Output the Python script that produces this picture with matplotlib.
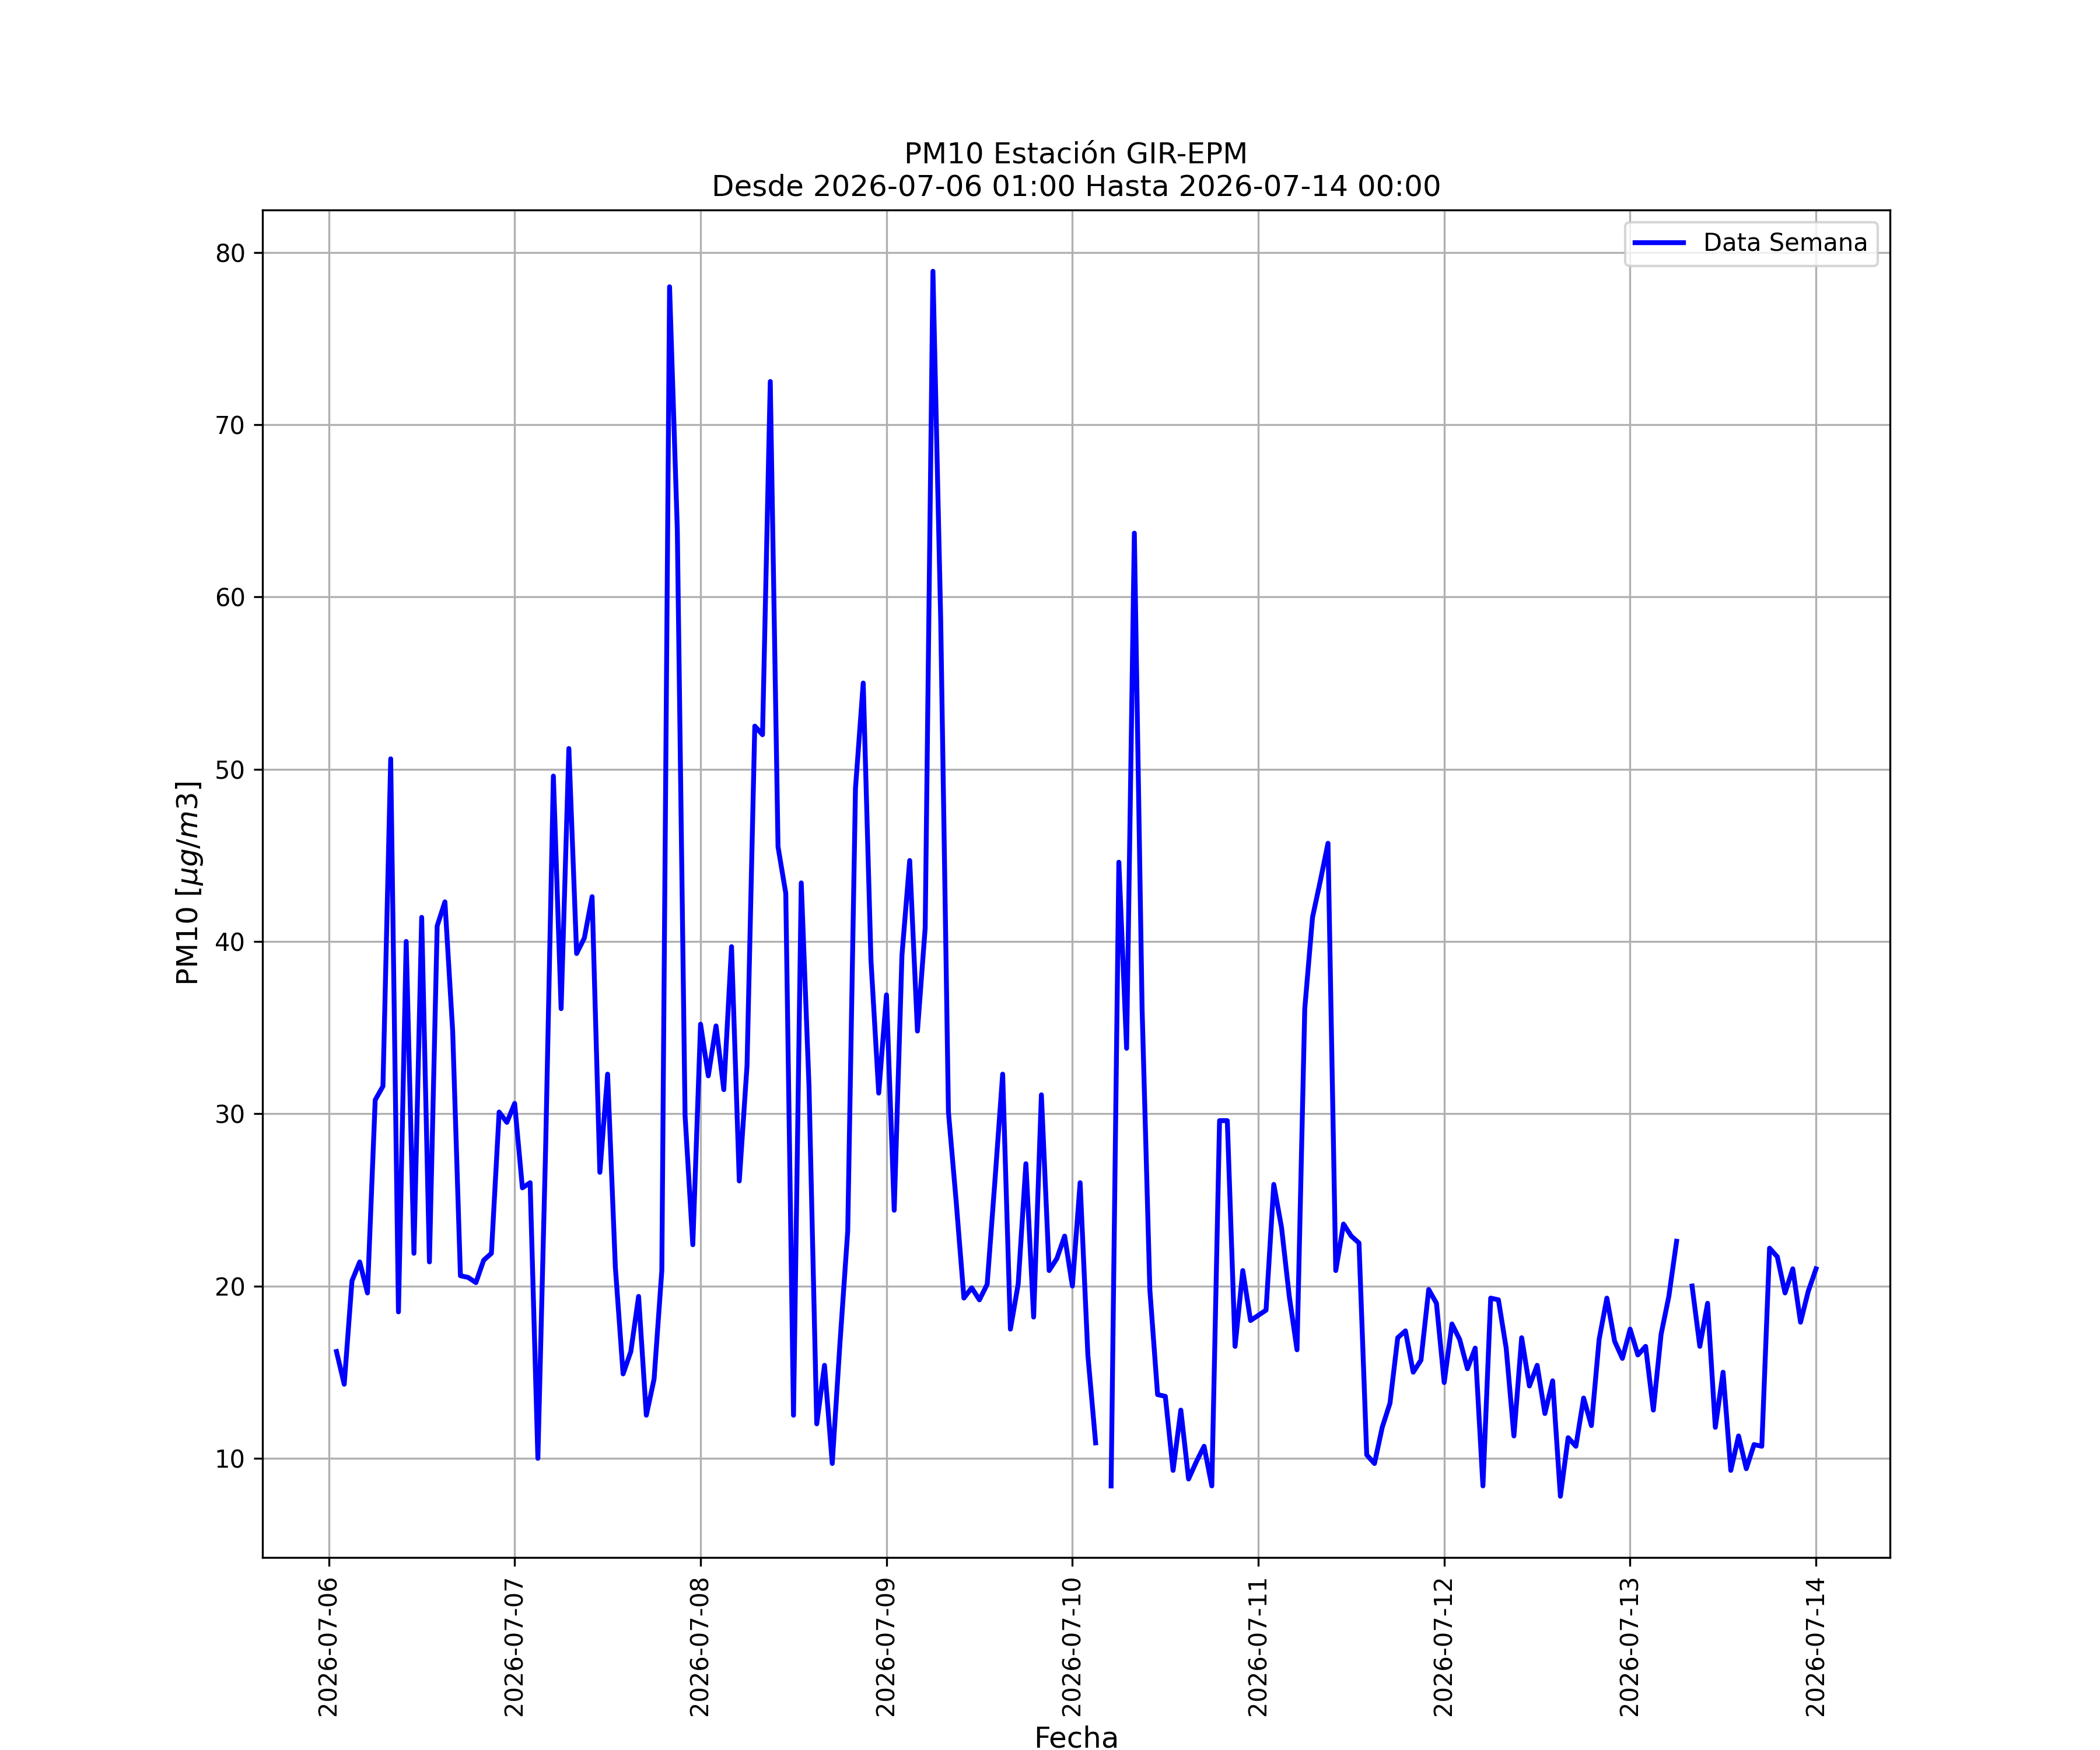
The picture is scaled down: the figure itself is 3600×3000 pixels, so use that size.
#!/usr/bin/env python3
# -*- coding: utf-8 -*-

import matplotlib
matplotlib.use("Agg")
import matplotlib.pyplot as plt
import matplotlib.dates as mdates
import numpy as np
import pandas as pd

nan = np.nan

START = "2026-07-06 01:00"
END = "2026-07-14 00:00"

# hourly PM10 values, one list per day
DAY_0706 = [16.2, 14.3, 20.3, 21.4, 19.6, 30.8, 31.6, 50.6, 18.5, 40.0, 21.9, 41.4,
            21.4, 40.9, 42.3, 34.8, 20.6, 20.5, 20.2, 21.5, 21.9, 30.1, 29.5]
DAY_0707 = [30.6, 25.7, 26.0, 10.0, 28.0, 49.6, 36.1, 51.2, 39.3, 40.2, 42.6, 26.6,
            32.3, 21.1, 14.9, 16.2, 19.4, 12.5, 14.6, 20.9, 78.0, 63.9, 29.9, 22.4]
DAY_0708 = [35.2, 32.2, 35.1, 31.4, 39.7, 26.1, 32.8, 52.5, 52.0, 72.5, 45.5, 42.8,
            12.5, 43.4, 31.6, 12.0, 15.4, 9.7, 16.7, 23.2, 48.9, 55.0, 38.9, 31.2]
DAY_0709 = [36.9, 24.4, 39.2, 44.7, 34.8, 40.8, 78.9, 58.7, 30.1, 24.9, 19.3, 19.9,
            19.2, 20.1, 26.1, 32.3, 17.5, 20.1, 27.1, 18.2, 31.1, 20.9, 21.6, 22.9]
DAY_0710 = [20.0, 26.0, 16.0, 10.9, nan, 8.4, 44.6, 33.8, 63.7, 36.1, 19.8, 13.7,
            13.6, 9.3, 12.8, 8.8, 9.8, 10.7, 8.4, 29.6, 29.6, 16.5, 20.9, 18.0]
DAY_0711 = [18.3, 18.6, 25.9, 23.4, 19.4, 16.3, 36.1, 41.4, 43.5, 45.7, 20.9, 23.6,
            22.9, 22.5, 10.2, 9.7, 11.8, 13.2, 17.0, 17.4, 15.0, 15.7, 19.8, 19.0]
DAY_0712 = [14.4, 17.8, 16.9, 15.2, 16.4, 8.4, 19.3, 19.2, 16.4, 11.3, 17.0, 14.2,
            15.4, 12.6, 14.5, 7.8, 11.2, 10.7, 13.5, 11.9, 16.9, 19.3, 16.8, 15.8]
DAY_0713 = [17.5, 16.0, 16.5, 12.8, 17.2, 19.4, 22.6, nan, 20.0, 16.5, 19.0, 11.8,
            15.0, 9.3, 11.3, 9.4, 10.8, 10.7, 22.2, 21.7, 19.6, 21.0, 17.9, 19.7]
DAY_0714 = [21.0]


def build_series():
    values = (DAY_0706 + DAY_0707 + DAY_0708 + DAY_0709 + DAY_0710
              + DAY_0711 + DAY_0712 + DAY_0713 + DAY_0714)
    idx = pd.date_range(START, END, freq="h")
    return pd.Series(values, index=idx)


def plot_week(serie):
    fig, ax = plt.subplots(figsize=(12, 10))
    ax.plot(serie.index, serie.values, color="blue", linewidth=2, label="Data Semana")
    ax.set_title("PM10 Estación GIR-EPM\nDesde %s Hasta %s" % (START, END), fontsize=12)
    ax.set_xlabel("Fecha", fontsize=12)
    ax.set_ylabel(r"PM10 [$\mu g/m3$]", fontsize=12)
    ax.xaxis.set_major_locator(mdates.DayLocator())
    ax.xaxis.set_major_formatter(mdates.DateFormatter("%Y-%m-%d"))
    plt.setp(ax.get_xticklabels(), rotation=90)
    ax.grid(True)
    ax.legend(loc="upper right")
    fig.savefig("out.png", dpi=300)
    plt.close(fig)


def main():
    plot_week(build_series())


if __name__ == "__main__":
    main()
